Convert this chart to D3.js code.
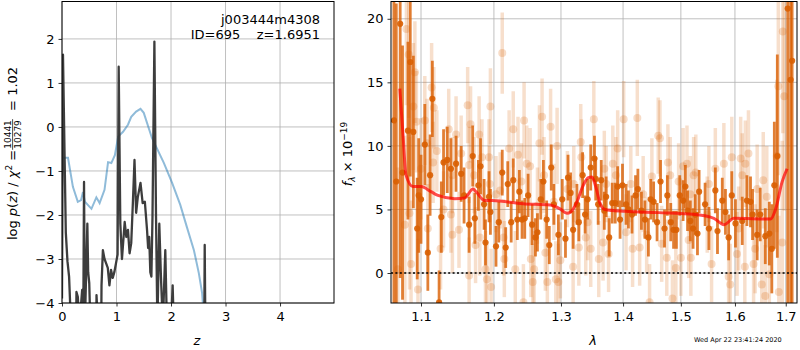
<!DOCTYPE html>
<html lang="en">
<head>
<meta charset="utf-8">
<title>redshift fit j003444m4308</title>
<style>
  body { margin: 0; background: #fff; }
  svg { display: block; font-family: "DejaVu Sans", sans-serif; }
  .axis path { display: none; }
  .axis line { stroke: #000; stroke-width: 0.8; }
  .axis text { font-size: 13px; fill: #000; font-family: "DejaVu Sans", sans-serif; }
  .grid line { stroke: #b0b0b0; stroke-width: 0.8; }
</style>
<script src="https://cdnjs.cloudflare.com/ajax/libs/d3/7.8.5/d3.min.js"></script>
</head>
<body>
<div id="chart"></div>
<script>
// ---- left panel: log p(z) ----
var zTicks = [0, 1, 2, 3, 4];
var logTicks = [-4, -3, -2, -1, 0, 1, 2];

var pzZ = [0.000,0.018,0.07,0.10,0.13,0.165,0.26,0.265,0.29,0.32,0.37,0.39,0.404,0.42,0.465,0.48,0.50,0.52,0.63,0.633,0.66,0.72,0.725,0.75,0.78,0.81,0.84,0.87,0.90,0.93,0.96,0.99,1.02,1.04,1.07,1.10,1.15,1.18,1.21,1.24,1.27,1.30,1.33,1.36,1.39,1.44,1.48,1.52,1.56,1.58,1.60,1.62,1.64,1.66,1.695,1.725,1.75,1.785,1.815,1.85,1.895,1.925,2.0,2.03,2.05,2.61,2.618,2.63];
var pzLog = [-3.9,1.64,-2.4,-3.05,-3.4,-4.5,-4.5,-3.75,-3.86,-4.5,-3.7,-4.5,-1.25,-4.5,-2.2,-3.3,-3.55,-4.5,-4.5,-3.82,-4.5,-4.5,-3.6,-2.8,-3.0,-3.1,-3.2,-3.6,-3.25,-3.43,-3.3,-3.1,-2.9,1.37,-2.2,-3.0,-2.16,-2.5,-2.34,-2.87,-2.64,-1.73,-0.75,-1.95,-1.6,-1.27,-1.73,-1.7,-2.34,-2.75,-2.5,-3.3,-3.4,-2.05,1.94,-2.05,-4.5,-2.2,-3.4,-4.5,-2.8,-4.5,-4.5,-3.6,-4.5,-4.5,-2.68,-4.5];

var priorZ = [0.018,0.11,0.20,0.29,0.35,0.385,0.42,0.54,0.63,0.69,0.78,0.81,0.845,0.905,0.97,1.03,1.12,1.21,1.27,1.36,1.44,1.50,1.65,1.87,2.02,2.17,2.29,2.42,2.51,2.57,2.59];
var priorLog = [-0.7,-0.7,-1.36,-1.7,-1.66,-1.48,-1.7,-1.86,-1.6,-1.73,-1.43,-1.14,-0.8,-0.82,-0.64,-0.22,-0.11,0.05,0.23,0.35,0.41,0.32,-0.25,-0.82,-1.27,-1.77,-2.27,-2.8,-3.32,-3.77,-4.1];

// ---- right panel: spectrum ----
var lamTicks = [1.1, 1.2, 1.3, 1.4, 1.5, 1.6, 1.7];
var fluxTicks = [0, 5, 10, 15, 20];

var darkLam = [1.065,1.068,1.073,1.076,1.083,1.086,1.090,1.095,1.097,1.100,1.105,1.109,1.112,1.115,1.124,1.127,1.130,1.135,1.140,1.147,1.154,1.158,1.165,1.170,1.173,1.178,1.181,1.186,1.188,1.193,1.195,
  1.203,1.207,1.212,1.217,1.220,1.225,1.228,1.234,1.237,1.241,1.245,1.250,1.256,1.261,1.264,1.269,1.273,1.278,1.282,1.285,1.289,1.296,
  1.302,1.307,1.311,1.315,1.319,1.325,1.328,1.334,1.338,1.342,1.347,1.353,1.355,1.359,1.364,1.369,1.372,1.377,1.382,1.387,1.391,1.395,1.399,
  1.405,1.409,1.415,1.421,1.425,1.431,1.437,1.443,1.447,1.452,1.458,1.464,1.471,1.476,1.482,1.487,1.492,1.498,
  1.504,1.508,1.512,1.517,1.522,1.526,1.530,1.533,1.544,1.551,1.563,1.567,1.576,1.582,1.588,1.594,
  1.601,1.614,1.623,1.630,1.634,1.643,1.649,1.659,1.667,1.672,1.677,1.683,1.704,1.710,1.713];
var darkFlux = [12.0,7.2,19.6,7.9,11.2,16.6,11.1,3.5,6.1,5.8,10.1,1.6,7.7,13.7,-2.3,4.4,8.7,8.9,8.2,8.6,7.8,6.1,3.8,9.2,4.3,6.9,8.4,5.4,2.4,6.0,4.8,
  2.1,4.0,7.9,2.0,7.0,4.0,7.3,4.2,6.4,4.2,4.3,6.1,3.8,2.8,3.2,5.8,7.2,4.2,2.2,8.3,5.4,3.0,
  5.8,2.7,7.5,6.3,3.4,5.4,4.0,7.7,4.6,5.8,8.3,9.0,7.4,5.4,7.3,4.9,6.0,2.8,5.5,5.5,6.8,4.2,6.9,
  5.4,5.0,4.6,6.1,6.6,4.9,4.2,2.8,5.8,5.6,4.0,7.2,3.5,6.1,4.0,3.4,3.4,6.1,
  5.7,6.8,4.9,4.1,3.5,4.6,3.1,6.4,5.4,3.5,6.5,3.3,5.7,4.8,2.8,6.1,
  3.9,4.1,5.7,5.6,4.6,3.0,4.6,2.9,3.1,1.9,6.9,9.2,20.8,15.2,16.7];
var darkErr = [16,14,20,10,7,9,6,4,4.5,3.5,3.2,3,3.2,3,2.5,2.8,2.6,2.6,2.4,2.2,2.2,2.2,2.2,2.4,2.0,2.0,2.2,2.0,1.8,2.0,1.8,
  1.6,1.6,1.8,1.6,1.8,1.6,1.7,1.6,1.7,1.5,1.6,1.7,1.6,1.5,1.5,1.6,1.7,1.5,1.5,1.8,1.6,1.6,
  1.6,1.5,1.8,1.6,1.5,1.6,1.5,1.8,1.5,1.6,1.8,1.8,1.7,1.6,1.6,1.5,1.6,1.5,1.6,1.6,1.6,1.5,1.7,
  1.6,1.5,1.5,1.6,1.6,1.5,1.5,1.5,1.6,1.6,1.5,1.7,1.5,1.6,1.5,1.5,1.5,1.6,
  1.6,1.7,1.6,1.6,1.6,1.6,1.7,1.7,1.7,1.7,1.8,1.8,1.8,1.8,1.8,1.9,
  1.9,1.9,2.0,2.0,2.0,2.0,2.1,2.2,2.5,3.5,5,8,25,25,25];

var lightLam = [1.070,1.079,1.081,1.084,1.085,1.087,1.090,1.092,1.094,1.096,1.100,1.105,1.108,1.109,1.114,1.116,1.117,1.121,1.126,1.130,1.137,1.140,1.142,1.142,1.147,1.151,1.154,1.163,1.165,1.165,1.167,1.172,1.174,1.179,1.180,1.183,1.188,1.190,1.193,1.194,1.195,1.196,
  1.203,1.209,1.212,1.214,1.215,1.222,1.228,1.231,1.235,1.240,1.243,1.244,1.248,1.253,1.254,1.257,1.259,1.264,1.267,1.271,1.274,1.276,1.279,1.284,1.289,1.292,1.294,1.296,1.299,
  1.310,1.319,1.320,1.328,1.331,1.332,1.339,1.342,1.347,1.352,1.360,1.367,1.369,1.372,1.376,1.383,1.388,1.391,
  1.401,1.405,1.413,1.416,1.424,1.428,1.434,1.440,1.445,1.449,1.460,1.463,1.466,1.475,1.477,1.481,1.485,1.491,1.496,
  1.500,1.504,1.511,1.514,1.517,1.518,1.523,1.527,1.548,1.551,1.556,1.563,1.579,1.588,1.591,1.594,
  1.604,1.607,1.611,1.614,1.619,1.620,1.626,1.636,1.639,1.643,1.652,1.655,1.659,1.662,1.667,1.682,1.685,1.686,1.693,1.694,1.697];
var lightFlux = [0.3,3.8,19.2,17.2,4.7,0.7,13.1,15.8,11.9,-1.3,8.2,12.0,10.2,3.5,14.6,8.7,13.0,9.6,1.9,5.0,11.3,4.6,3.0,7.7,10.9,3.4,9.4,13.2,-0.2,8.5,11.7,7.7,2.2,10.9,2.8,9.1,0.3,-0.5,9.1,7.0,13.1,-1.1,
  6.2,6.5,17.3,2.8,1.1,9.8,11.3,0.3,9.3,7.2,-2.3,12.0,8.6,8.4,1.1,-0.7,0.3,5.3,10.2,12.3,7.7,1.6,-0.7,11.5,5.6,-0.5,10.0,-0.7,1.0,
  6.6,0.5,7.0,2.0,10.3,9.1,2.8,4.0,1.9,12.1,1.1,2.4,8.2,7.0,1.5,8.6,7.7,9.8,
  12.1,3.2,7.0,1.9,12.2,2.0,6.2,3.0,-2.3,7.6,10.8,10.6,2.3,1.2,8.7,7.7,-2.0,0.4,7.2,
  1.2,8.4,8.6,2.6,6.2,1.2,7.7,7.9,4.6,7.0,0.7,8.2,8.6,-0.3,-0.9,9.1,
  1.5,3.5,9.0,7.7,0.5,8.6,9.4,0.7,1.9,6.6,-0.9,7.3,-1.8,6.0,-0.1,9.2,14.7,-1.5,2.4,19.0,13.9];
var lightErr = [8,7,6,5,6,5,5,4,4,4,4,3.5,3.5,3.5,3.5,3.2,3.2,3.2,3.2,3,3.2,3,3,3,3,3,3,3,3,3,3,3,3,3,3,3,3,3,3,3,3,3,
  3,3,3.2,3,3,3,3,3,3,3,3,3,3,3,3,3,3,3,3,3,3,3,3,3,3,3,3,3,3,
  3,3,3,3,3,3,3,3,3,3,3,3,3,3,3,3,3,3,
  3,3,3,3,3,3,3,3,3,3,3,3,3,3,3,3,3,3,3,
  3,3,3,3,3,3,3,3,3,3,3,3.2,3.2,3.2,3.2,3.2,
  3.3,3.3,3.3,3.3,3.4,3.4,3.4,3.5,3.5,3.5,3.6,3.8,4,4,4.5,6,7,6,8,8,9];

var modelLam = [1.0725,1.0766,1.0805,1.0895,1.100,1.1132,1.1225,1.1451,1.1589,1.1704,1.1746,1.1869,1.1973,1.2424,1.283,1.2985,1.3094,1.315,1.325,1.335,1.343,1.349,1.355,1.362,1.370,1.4032,1.4608,1.5256,1.5604,1.5792,1.5982,1.6697,1.6798,1.6925,1.7027];
var modelFlux = [14.5,10.9,7.7,6.8,6.8,6.4,6.1,5.85,5.9,6.6,6.4,5.7,5.7,5.45,5.35,5.05,4.7,4.8,5.6,6.9,7.5,7.55,6.8,5.5,5.0,4.85,4.75,4.6,4.3,3.8,4.3,4.25,5.05,7.15,8.2];

var W = 800, H = 350;
var svg = d3.select("#chart").append("svg")
  .attr("width", W)
  .attr("height", H);

var defs = svg.append("defs");

function makePanel(id, x, y, xTicks, yTicks, xFmt, yFmt) {
  var r = x.range(), d = y.range();
  defs.append("clipPath").attr("id", id)
    .append("rect")
    .attr("x", r[0]).attr("y", d[1])
    .attr("width", r[1] - r[0]).attr("height", d[0] - d[1]);

  var grid = svg.append("g").attr("class", "grid");
  grid.selectAll(".gx").data(xTicks).enter().append("line")
    .attr("x1", function(t) { return x(t); })
    .attr("x2", function(t) { return x(t); })
    .attr("y1", d[0]).attr("y2", d[1]);
  grid.selectAll(".gy").data(yTicks).enter().append("line")
    .attr("x1", r[0]).attr("x2", r[1])
    .attr("y1", function(t) { return y(t); })
    .attr("y2", function(t) { return y(t); });

  svg.append("g").attr("class", "axis")
    .attr("transform", "translate(0," + d[0] + ")")
    .call(d3.axisBottom(x).tickValues(xTicks).tickSize(3.5).tickPadding(5).tickFormat(xFmt));
  svg.append("g").attr("class", "axis")
    .attr("transform", "translate(" + r[0] + ",0)")
    .call(d3.axisLeft(y).tickValues(yTicks).tickSize(3.5).tickPadding(4).tickFormat(yFmt));

  return svg.append("g").attr("clip-path", "url(#" + id + ")");
}

function frame(x, y) {
  var r = x.range(), d = y.range();
  svg.append("rect")
    .attr("x", r[0]).attr("y", d[1])
    .attr("width", r[1] - r[0]).attr("height", d[0] - d[1])
    .attr("fill", "none").attr("stroke", "#000").attr("stroke-width", 1);
}

// ---------- left ----------
var xL = d3.scaleLinear().domain([0, 4.99]).range([62, 334]);
var yL = d3.scaleLinear().domain([-4, 2.85]).range([303, 1.5]);
var gL = makePanel("clipL", xL, yL, zTicks, logTicks, d3.format("d"), d3.format("d"));

var lineL = d3.line()
  .x(function(d) { return xL(d[0]); })
  .y(function(d) { return yL(d[1]); });

gL.append("path")
  .datum(d3.zip(priorZ, priorLog))
  .attr("d", lineL)
  .attr("fill", "none")
  .attr("stroke", "#1f77b4")
  .attr("stroke-opacity", 0.5)
  .attr("stroke-width", 2);

gL.append("path")
  .datum(d3.zip(pzZ, pzLog))
  .attr("d", lineL)
  .attr("fill", "none")
  .attr("stroke", "#333")
  .attr("stroke-opacity", 0.95)
  .attr("stroke-width", 2.3)
  .attr("stroke-linejoin", "round");

frame(xL, yL);

svg.append("text").attr("x", 320).attr("y", 24)
  .attr("text-anchor", "end").attr("font-size", 13)
  .text("j003444m4308");
svg.append("text").attr("x", 320).attr("y", 39)
  .attr("text-anchor", "end").attr("font-size", 13)
  .style("white-space", "pre")
  .text("ID=695    z=1.6951");

svg.append("text").attr("x", 197).attr("y", 345)
  .attr("text-anchor", "middle").attr("font-size", 13)
  .attr("font-style", "italic").text("z");

// left y label with stacked fraction
var gy = svg.append("g").attr("transform", "rotate(-90)");
var t1 = gy.append("text").attr("y", 17).attr("font-size", 13);
t1.append("tspan").text("log ");
t1.append("tspan").attr("font-style", "italic").text("p");
t1.append("tspan").text("(");
t1.append("tspan").attr("font-style", "italic").text("z");
t1.append("tspan").text(") / ");
t1.append("tspan").attr("font-style", "italic").text("χ");
t1.append("tspan").attr("font-size", 9).attr("dy", -5).text("2");
t1.append("tspan").attr("dy", 5).text(" = ");
var num = gy.append("text").attr("y", 10.5).attr("font-size", 9).text("10441");
var den = gy.append("text").attr("y", 20.5).attr("font-size", 9).text("10279");
var t3 = gy.append("text").attr("y", 17).attr("font-size", 13)
  .style("white-space", "pre").text("  = 1.02");
var len1 = t1.node().getComputedTextLength();
var wf = Math.max(num.node().getComputedTextLength(), den.node().getComputedTextLength()) + 2;
var len3 = t3.node().getComputedTextLength();
var s = -(153.5 + (len1 + wf + len3) / 2);
t1.attr("x", s);
num.attr("x", s + len1 + 1);
den.attr("x", s + len1 + 1);
gy.append("line")
  .attr("x1", s + len1).attr("x2", s + len1 + wf)
  .attr("y1", 12.6).attr("y2", 12.6)
  .attr("stroke", "#000").attr("stroke-width", 0.7);
t3.attr("x", s + len1 + wf);

// ---------- right ----------
var xR = d3.scaleLog().domain([1.0613, 1.723]).range([391, 797]);
var yR = d3.scaleLinear().domain([-2.36, 21.36]).range([303, 1.5]);
var gR = makePanel("clipR", xR, yR, lamTicks, fluxTicks, d3.format(".1f"), d3.format("d"));

var orange = "#d95f02";
var light = d3.zip(lightLam, lightFlux, lightErr);
var dark = d3.zip(darkLam, darkFlux, darkErr);

gR.selectAll(".lbar").data(light).enter().append("line")
  .attr("x1", function(d) { return xR(d[0]); })
  .attr("x2", function(d) { return xR(d[0]); })
  .attr("y1", function(d) { return yR(d[1] - d[2]); })
  .attr("y2", function(d) { return yR(d[1] + d[2]); })
  .attr("stroke", orange).attr("stroke-opacity", 0.2).attr("stroke-width", 3.5);
gR.selectAll(".ldot").data(light).enter().append("circle")
  .attr("cx", function(d) { return xR(d[0]); })
  .attr("cy", function(d) { return yR(d[1]); })
  .attr("r", 4)
  .attr("fill", orange).attr("fill-opacity", 0.22);

gR.selectAll(".dbar").data(dark).enter().append("line")
  .attr("x1", function(d) { return xR(d[0]); })
  .attr("x2", function(d) { return xR(d[0]); })
  .attr("y1", function(d) { return yR(d[1] - d[2]); })
  .attr("y2", function(d) { return yR(d[1] + d[2]); })
  .attr("stroke", orange).attr("stroke-opacity", 0.8).attr("stroke-width", 2.8);
gR.selectAll(".ddot").data(dark).enter().append("circle")
  .attr("cx", function(d) { return xR(d[0]); })
  .attr("cy", function(d) { return yR(d[1]); })
  .attr("r", 3.1)
  .attr("fill", orange).attr("fill-opacity", 0.9);

gR.append("path")
  .datum(d3.zip(modelLam, modelFlux))
  .attr("d", d3.line()
    .curve(d3.curveMonotoneX)
    .x(function(d) { return xR(d[0]); })
    .y(function(d) { return yR(d[1]); }))
  .attr("fill", "none")
  .attr("stroke", "red").attr("stroke-opacity", 0.7).attr("stroke-width", 3);

gR.append("line")
  .attr("x1", xR.range()[0]).attr("x2", xR.range()[1])
  .attr("y1", yR(0)).attr("y2", yR(0))
  .attr("stroke", "#000").attr("stroke-width", 1.6)
  .attr("stroke-dasharray", "2,2.4");

frame(xR, yR);

svg.append("text").attr("x", 593).attr("y", 345)
  .attr("text-anchor", "middle").attr("font-size", 13)
  .attr("font-style", "italic").text("λ");

var ry = svg.append("text")
  .attr("transform", "rotate(-90)")
  .attr("x", -154).attr("y", 352)
  .attr("text-anchor", "middle").attr("font-size", 13);
ry.append("tspan").attr("font-style", "italic").text("f");
ry.append("tspan").attr("font-style", "italic").attr("font-size", 9).attr("dy", 3).text("λ");
ry.append("tspan").attr("dy", -3).text(" × 10");
ry.append("tspan").attr("font-size", 9).attr("dy", -5).text("−19");

svg.append("text").attr("x", 694).attr("y", 342)
  .attr("font-size", 6.5).text("Wed Apr 22 23:41:24 2020");
</script>
</body>
</html>
